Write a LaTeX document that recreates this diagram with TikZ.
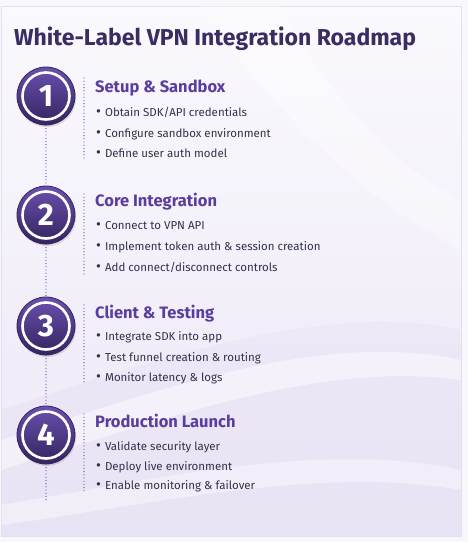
\documentclass[tikz,border=0pt]{standalone}
\usepackage{fontspec}
\setmainfont{Fira Sans}
\usetikzlibrary{shadows}

\definecolor{pagebg}{HTML}{F8F7FB}
\definecolor{cardtop}{HTML}{FAF9FD}
\definecolor{cardbot}{HTML}{ECE7F6}
\definecolor{cardline}{HTML}{E4DFEF}
\definecolor{titlecol}{HTML}{3B2D62}
\definecolor{headcol}{HTML}{5A3E9E}
\definecolor{textcol}{HTML}{35304A}
\definecolor{circtop}{HTML}{6A50AE}
\definecolor{circbot}{HTML}{34245F}
\definecolor{dotcol}{HTML}{6E55AE}
\definecolor{wavecol}{HTML}{E2DBF2}

\newcommand{\bul}{\raisebox{-0.8pt}{\fontsize{15}{15}\selectfont•}\hspace{4pt}}

\tikzset{
  stepcircle/.style={circle, minimum size=58pt, inner sep=0pt,
    top color=circtop, bottom color=circbot, draw=circbot, line width=0.8pt,
    drop shadow={opacity=0.25, shadow xshift=1pt, shadow yshift=-2pt}},
  stepnum/.style={text=white, font=\bfseries\fontsize{31}{31}\selectfont},
  heading/.style={anchor=base west, text=headcol, inner sep=0pt,
    font=\bfseries\fontsize{16.5}{18}\selectfont},
  item/.style={anchor=base west, text=textcol, inner sep=0pt,
    font=\fontsize{11.5}{13}\selectfont},
  trail/.style={dotcol, line width=1.3pt, line cap=round, dash pattern=on 0pt off 3.2pt},
}

\begin{document}
\begin{tikzpicture}[x=1pt, y=-1pt]
    \useasboundingbox (0,0) rectangle (468,542);
    \fill[pagebg] (0,0) rectangle (468,542);
    \shade[top color=cardtop, bottom color=cardbot, draw=cardline]
        (1,6) rectangle (461,536);

    % faint background waves
    \begin{scope}
        \clip (1.5,6.5) rectangle (460.5,535.5);
        \fill[wavecol, opacity=0.3] (1,410) .. controls (150,360) and (330,300) .. (461,330)
            -- (461,536) -- (1,536) -- cycle;
        \fill[white, opacity=0.45] (1,440) .. controls (160,390) and (320,330) .. (461,360)
            -- (461,380) .. controls (320,360) and (160,420) .. (1,470) -- cycle;
        \fill[white, opacity=0.4] (1,505) .. controls (150,480) and (320,440) .. (461,470)
            -- (461,490) .. controls (320,465) and (150,505) .. (1,525) -- cycle;
        \fill[white, opacity=0.35] (200,6) .. controls (300,150) and (400,220) .. (461,250)
            -- (461,200) .. controls (400,170) and (330,100) .. (280,6) -- cycle;
    \end{scope}

    \node[anchor=base west, inner sep=0pt, text=titlecol,
          font=\bfseries\fontsize{23}{26}\selectfont] (title) at (14,45)
          {White-Label VPN Integration Roadmap};

    % step circles
    \node[stepcircle] (c1) at (46,96) {};
    \node[stepcircle] (c2) at (46,215) {};
    \node[stepcircle] (c3) at (46,326) {};
    \node[stepcircle] (c4) at (46,435) {};
    \foreach \n in {1,...,4} {
        \draw[white, line width=2.6pt] (c\n.center) circle (23.5pt);
        \node[stepnum] at (c\n.center) {\n};
    }
    \coordinate (tail) at (46,500);

    \draw[trail] (c1) -- (c2);
    \draw[trail] (c2) -- (c3);
    \draw[trail] (c3) -- (c4);
    \draw[trail] (c4) -- (tail);

    % step 1
    \draw[trail] (84,78) -- (84,161);
    \node[heading] (h1) at (95,92) {Setup \& Sandbox};
    \node[item] (i11) at (96,116) {\bul Obtain SDK/API credentials};
    \node[item] (i12) at (96,137) {\bul Configure sandbox environment};
    \node[item] (i13) at (96,157) {\bul Define user auth model};

    % step 2
    \draw[trail] (84,194) -- (84,274);
    \node[heading] (h2) at (95,206) {Core Integration};
    \node[item] (i21) at (96,229) {\bul Connect to VPN API};
    \node[item] (i22) at (96,250) {\bul Implement token auth \& session creation};
    \node[item] (i23) at (96,271) {\bul Add connect/disconnect controls};

    % step 3
    \draw[trail] (84,305) -- (84,384);
    \node[heading] (h3) at (95,318) {Client \& Testing};
    \node[item] (i31) at (96,340) {\bul Integrate SDK into app};
    \node[item] (i32) at (96,361) {\bul Test funnel creation \& routing};
    \node[item] (i33) at (96,381) {\bul Monitor latency \& logs};

    % step 4
    \draw[trail] (84,414) -- (84,493);
    \node[heading] (h4) at (95,427) {Production Launch};
    \node[item] (i41) at (96,450) {\bul Validate security layer};
    \node[item] (i42) at (96,470) {\bul Deploy live environment};
    \node[item] (i43) at (96,489) {\bul Enable monitoring \& failover};
\end{tikzpicture}
\end{document}
